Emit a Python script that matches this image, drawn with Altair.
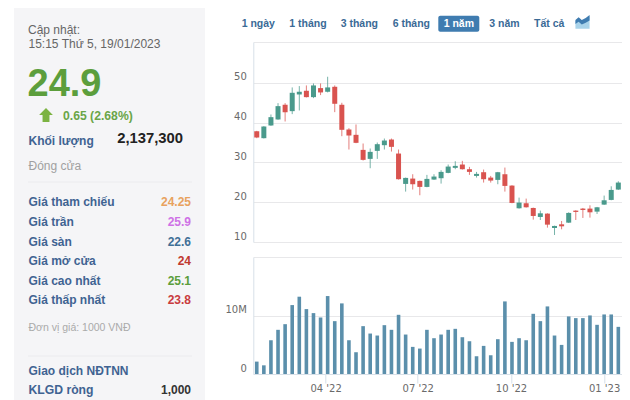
import altair as alt
import pandas as pd

# ---------- values ----------
body_top = [37.84,39.01,41.36,44.13,44.47,47.48,47.74,47.99,49.33,48.66,48.83,48.99,44.47,38.26,36.92,33.14,32.64,34.57,35.49,35.74,32.22,26.10,25.93,25.35,25.85,26.44,27.61,28.95,29.12,29.46,28.28,27.11,27.53,26.18,27.53,27.02,24.17,19.90,19.73,18.55,17.21,17.13,14.03,14.44,17.30,17.88,18.39,18.39,18.72,20.48,23.08,24.93]
body_bottom = [36.25,36.08,39.27,40.78,42.62,42.87,47.06,46.39,46.39,47.57,47.74,44.72,38.18,36.75,34.91,30.63,30.88,32.89,34.32,33.90,25.77,24.59,24.51,23.84,23.84,25.68,26.02,27.36,28.62,28.28,27.61,26.60,25.77,25.43,25.60,24.09,19.81,18.47,18.72,16.54,16.29,14.36,13.52,13.94,14.86,17.55,18.05,17.46,17.63,19.39,20.57,23.17]
high = [37.92,39.10,42.03,44.88,44.88,48.83,49.16,49.33,49.83,49.83,51.51,49.33,44.97,38.60,39.52,34.74,33.48,34.99,35.99,35.99,33.23,26.18,27.02,25.43,26.86,27.02,28.03,29.46,30.29,30.38,28.87,27.61,28.20,26.60,27.61,28.70,24.26,21.15,20.90,18.64,17.88,17.21,14.11,15.28,17.46,17.97,18.55,19.22,18.81,21.66,24.00,25.26]
low = [36.08,36.00,39.18,40.69,40.27,42.12,43.04,46.31,46.14,46.90,47.57,42.62,36.58,33.23,34.82,30.46,28.53,30.88,33.23,32.72,25.68,22.66,23.17,21.74,23.75,25.60,24.67,27.27,28.28,28.20,26.86,26.18,24.93,24.93,24.51,22.66,19.73,18.39,18.64,15.62,15.53,13.61,11.76,13.19,14.78,15.53,16.04,16.12,17.04,19.31,20.48,23.08]
direction = ["d","u","u","u","d","u","u","d","u","d","u","d","d","d","d","d","u","u","u","d","d","u","d","d","u","u","u","u","u","d","d","u","d","d","u","d","d","u","d","d","u","d","u","d","u","d","d","d","u","u","u","u"]
volume = [2.13,1.49,5.80,7.59,8.56,11.84,13.28,11.15,10.46,9.71,13.39,9.08,12.13,5.80,3.74,8.22,6.95,6.61,8.39,7.59,10.17,6.78,4.66,4.37,7.59,6.15,6.78,7.59,7.76,6.32,5.63,3.05,4.83,3.22,5.98,12.47,5.52,6.15,5.80,10.34,9.08,11.61,6.61,5.00,9.89,9.60,9.60,10.06,8.45,10.23,10.23,8.10]
dates = [d.strftime("%Y-%m-%dT00:00:00") for d in pd.date_range("2022-01-23", periods=52, freq="7D")]

df = pd.DataFrame(dict(date=dates, top=body_top, bottom=body_bottom, high=high, low=low, dir=direction, vol=volume))

SANS = "Liberation Sans"
AXF = "DejaVu Sans"
RED, GREEN, BLUE = "#d9534f", "#4a9a8c", "#5b8fab"
GRID, AXLINE = "#e8e8ea", "#d8e0e8"
LABEL = "#3f6392"

xdom = ["2022-01-19T14:00:00", "2023-01-18T08:00:00"]
xscale = alt.Scale(domain=xdom, padding=0)
color = alt.Color("dir:N", scale=alt.Scale(domain=["u", "d"], range=[GREEN, RED]), legend=None)

# ---------- decoration helpers (all positions are page pixels) ----------
blank = pd.DataFrame({"a": [0]})

def txt(s, x, y, size=13, col="#333333", bold=False, align="left", ox=8, oy=8):
    return alt.Chart(blank).mark_text(
        text=s, font=SANS, fontSize=size, color=col, align=align, baseline="middle",
        fontWeight="bold" if bold else "normal",
    ).encode(x=alt.value(x - ox), y=alt.value(y - oy))

def hline(x1, x2, y, col="#ebebee"):
    return alt.Chart(blank).mark_rule(color=col, strokeWidth=1).encode(
        x=alt.value(x1 - 8), x2=alt.value(x2 - 8), y=alt.value(y - 8))

panel = [
    alt.Chart(blank).mark_rect(color="#f5f5f7").encode(
        x=alt.value(6), x2=alt.value(197), y=alt.value(0), y2=alt.value(392)),
    txt("Cập nhật:", 28, 30, 12, "#666666"),
    txt("15:15 Thứ 5, 19/01/2023", 28.5, 43.5, 12, "#666666"),
    txt("24.9", 27.5, 85, 38, "#5c9e3c", True),
    alt.Chart(blank).mark_point(
        shape="M-1,0L0,-1L1,0L0.5,0L0.5,1L-0.5,1L-0.5,0Z", filled=True, size=190,
        color="#7cb342", opacity=1,
    ).encode(x=alt.value(46 - 8), y=alt.value(115 - 8)),
    txt("0.65 (2.68%)", 63, 116, 12.2, "#6aa548", True),
    txt("Khối lượng", 28.5, 141, 12, LABEL, True),
    txt("2,137,300", 183, 139, 14.8, "#222222", True, "right"),
    txt("Đóng cửa", 28.5, 166, 12, "#a0a0a0"),
    hline(28, 192, 182),
    txt("Đơn vị giá: 1000 VNĐ", 28.5, 328, 10.5, "#aaaaaa"),
    hline(28, 192, 356),
    txt("Giao dịch NĐTNN", 28.5, 370.5, 12, LABEL, True),
    txt("KLGD ròng", 28.5, 390, 12.2, LABEL, True),
    txt("1,000", 191, 390, 12, "#333333", True, "right"),
]
rows = [
    ("Giá tham chiếu", "24.25", "#e8a25e", 202),
    ("Giá trần", "25.9", "#cf72e6", 222),
    ("Giá sàn", "22.6", "#3f6f96", 241.5),
    ("Giá mở cửa", "24", "#c0392f", 261),
    ("Giá cao nhất", "25.1", "#5c9e3c", 281),
    ("Giá thấp nhất", "23.8", "#c93c3e", 300),
]
for lab, val, col, y in rows:
    panel.append(txt(lab, 28.5, y, 12, LABEL, True))
    panel.append(txt(val, 191, y, 12, col, True, "right"))

left = alt.layer(*panel).properties(width=197, height=392)

# ---------- tab bar ----------
OX, OY = 253.3, 8
TAB = "#3a6a96"
def tab(s, x, col=TAB):
    return txt(s, x, 24, 10.5, col, True, "left", OX, OY)

tabs = alt.layer(
    alt.Chart(blank).mark_rect(color="#3f7cb0", cornerRadius=2).encode(
        x=alt.value(438.3 - OX), x2=alt.value(479.3 - OX), y=alt.value(15.7 - OY), y2=alt.value(31.7 - OY)),
    tab("1 ngày", 241.7), tab("1 tháng", 289.3), tab("3 tháng", 340.7), tab("6 tháng", 392.7),
    txt("1 năm", 458.8, 24, 10.5, "#ffffff", True, "center", OX, OY),
    tab("3 năm", 489.3), tab("Tất cả", 534),
    alt.Chart(blank).mark_point(
        shape="M-1,-0.2L-0.55,-0.5L-0.1,-0.1L0.45,-0.45L1,-0.9L1,0.9L-1,0.9Z", filled=True, size=200,
        color="#a9d3ea", opacity=1).encode(x=alt.value(582.5 - OX), y=alt.value(22.5 - OY)),
    alt.Chart(blank).mark_point(
        shape="M-1,-0.35L-0.55,-0.75L-0.1,-0.35L0.45,-0.65L1,-1.05L1,-0.3L0.45,0.05L-0.1,0.3L-0.55,-0.1L-1,0.2Z",
        filled=True, size=200, color="#3f7cb0", opacity=1).encode(x=alt.value(582.5 - OX), y=alt.value(22.5 - OY)),
).properties(width=368.4, height=19)

# ---------- candles ----------
base = alt.Chart(df)
price_top = 60.24
price_y = alt.Scale(domain=[10, price_top], nice=False, zero=False)
price_axis = alt.Axis(
    values=[10, 20, 30, 40, 50, price_top], labelExpr="datum.value > 55 ? '' : datum.label",
    grid=True, gridColor=GRID, domainColor=AXLINE, ticks=False, title=None,
    labelFont=AXF, labelFontSize=10, labelColor="#6a6a6a", labelOffset=-6, labelPadding=7,
)
xnone = alt.X("date:T", scale=xscale, axis=None)
wicks = base.mark_rule(strokeWidth=1, opacity=0.75).encode(
    x=xnone, y=alt.Y("low:Q", scale=price_y, axis=price_axis), y2="high:Q", color=color)
bodies = base.mark_bar(size=5, opacity=1).encode(
    x=xnone, y=alt.Y("top:Q", scale=price_y, axis=price_axis), y2="bottom:Q", color=color)
candles = alt.layer(wicks, bodies).properties(width=368.4, height=200)

# ---------- volume ----------
vol_axis = alt.Axis(
    values=[0, 10, 20.1], labelExpr="datum.value == 0 ? '0' : datum.value == 10 ? '10M' : ''",
    grid=True, gridColor=GRID, domainColor=AXLINE, ticks=False, title=None,
    labelFont=AXF, labelFontSize=10, labelColor="#6a6a6a", labelOffset=-6, labelPadding=7,
)
x_axis = alt.Axis(
    values=[alt.DateTime(year=2022, month=4, date=1), alt.DateTime(year=2022, month=7, date=1),
            alt.DateTime(year=2022, month=10, date=1), alt.DateTime(year=2023, month=1, date=1)],
    format="%m '%y", grid=False, title=None, tickColor=AXLINE, tickSize=9, domainColor=AXLINE,
    labelFont=AXF, labelFontSize=10, labelColor="#6a6a6a", labelPadding=0, labelBaseline="top",
)
vol = base.mark_bar(size=3.6, color=BLUE).encode(
    x=alt.X("date:T", scale=xscale, axis=x_axis),
    y=alt.Y("vol:Q", scale=alt.Scale(domain=[0, 20.1], nice=False), axis=vol_axis),
).properties(width=368.4, height=117)

right = alt.vconcat(tabs, candles, vol, spacing=15, bounds="flush")

chart = alt.hconcat(left, right, spacing=48.3, bounds="flush").properties(padding=0).configure_view(strokeWidth=0)
chart.save("out.html", embed_options={"renderer": "svg", "actions": False})
